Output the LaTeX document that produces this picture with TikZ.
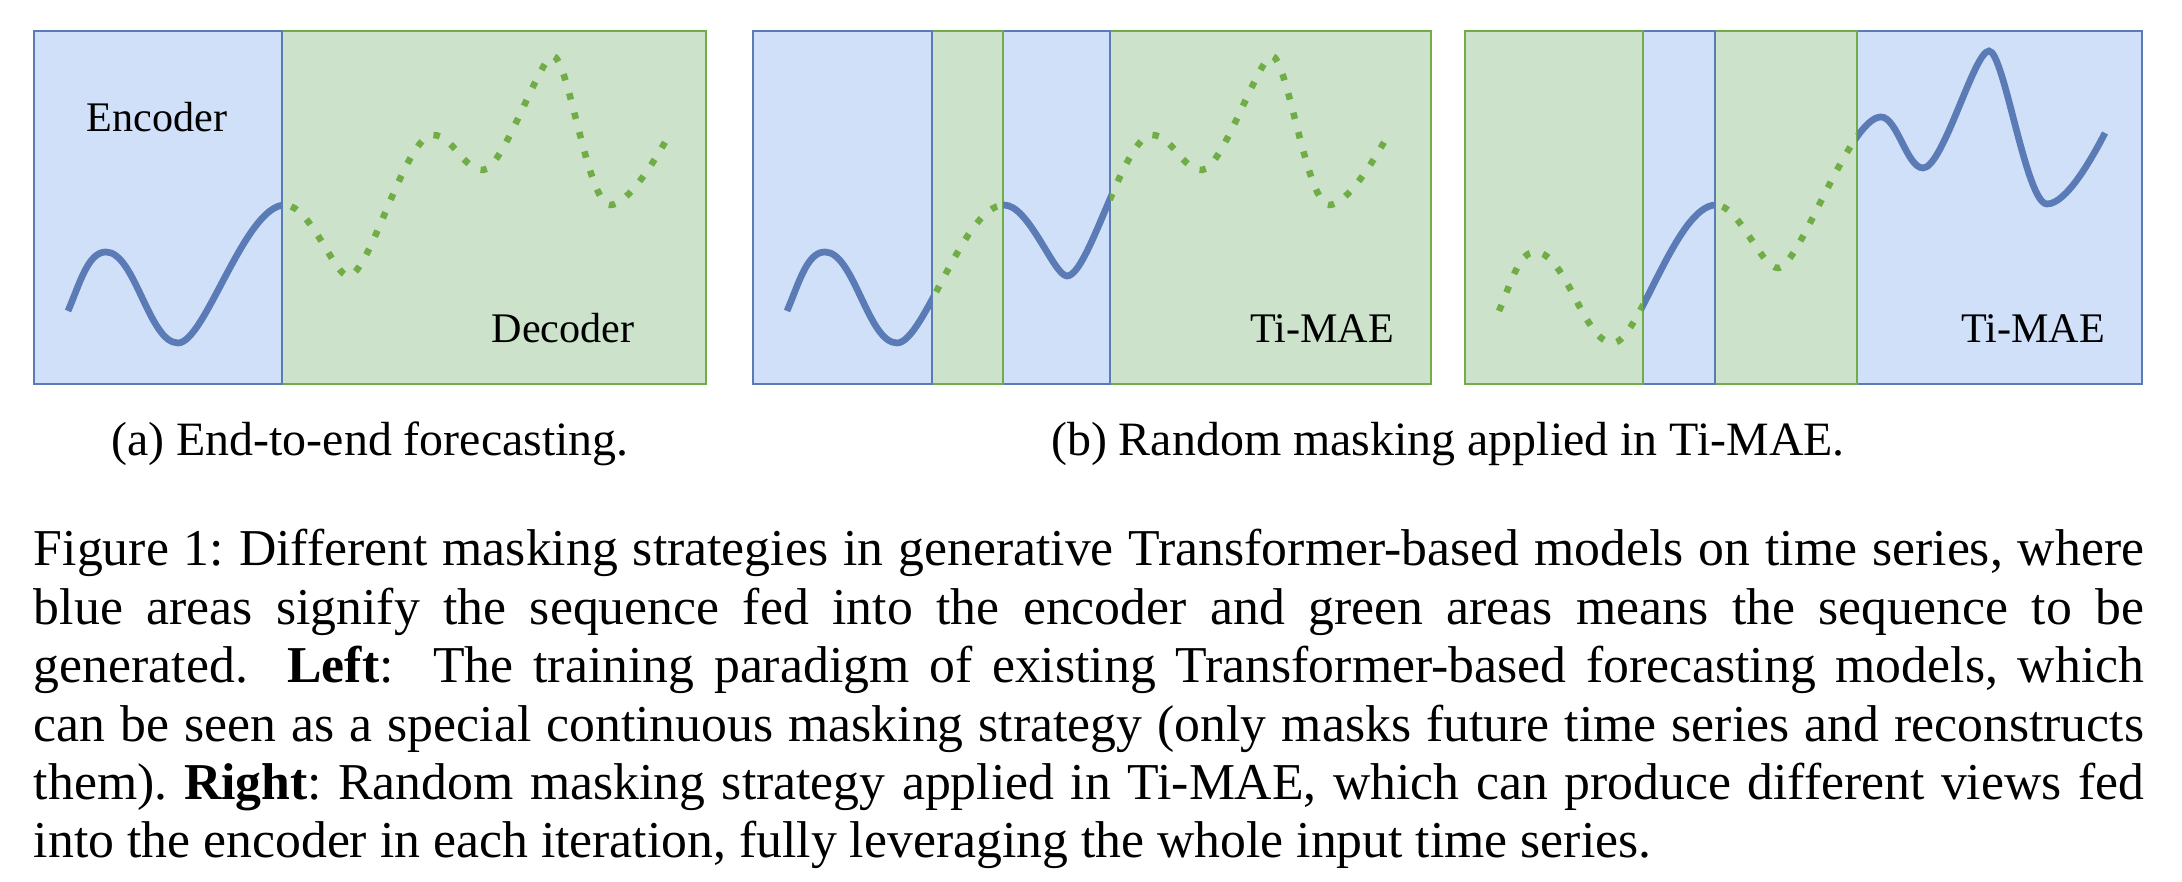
\documentclass[tikz,border=0pt]{standalone}
\usepackage{fontspec}
\setmainfont{Liberation Serif}
\definecolor{encfill}{RGB}{208,224,248}
\definecolor{encdraw}{RGB}{91,123,182}
\definecolor{decfill}{RGB}{204,226,203}
\definecolor{decdraw}{RGB}{112,173,71}
\newcommand{\capline}[1]{\makebox[440.6pt][s]{#1}}
\begin{document}
\begin{tikzpicture}[x=0.2088pt,y=-0.2088pt,
    encbox/.style={fill=encfill,draw=encdraw,line width=0.5pt},
    decbox/.style={fill=decfill,draw=decdraw,line width=0.5pt},
    seen/.style={draw=encdraw,line width=1.4pt},
    masked/.style={draw=decdraw,line width=1.36pt,dash pattern=on 1.36pt off 2.82pt},
    lbl/.style={font=\fontsize{8.8}{10}\selectfont,inner sep=0pt,anchor=base},
    subcap/.style={font=\fontsize{10}{12.2}\selectfont,inner sep=0pt,anchor=base},
    series/.pic={\path[pic actions] (68,311) .. controls (80,283) and (88,252) .. (106,252)
        .. controls (135,252) and (149,343) .. (178,343) .. controls (205,343) and (245,205) .. (285,205)
        .. controls (310,205) and (335,276) .. (348,276) .. controls (370,276) and (405,135) .. (433,135)
        .. controls (453,135) and (463,170) .. (483,170) .. controls (503,170) and (540,56) .. (553,56)
        .. controls (568,56) and (588,205) .. (610,205) .. controls (628,205) and (655,160) .. (668,137);},
    series2/.pic={\path[pic actions] (68,311) .. controls (80,283) and (88,252) .. (104,252)
        .. controls (135,252) and (153,343) .. (182,343) .. controls (207,343) and (245,205) .. (285,205)
        .. controls (308,205) and (330,268) .. (347,268) .. controls (368,268) and (418,117) .. (450,117)
        .. controls (466,117) and (476,168) .. (492,168) .. controls (512,168) and (543,51) .. (558,51)
        .. controls (573,51) and (595,204) .. (616,204) .. controls (635,204) and (660,160) .. (674,133);}]
    \fill[white] (0,0) rectangle (2182,882);
    \useasboundingbox (0,0) rectangle (2182,882);
    % (a) encoder / decoder
    \draw[decbox] (282,31) rectangle (706,384);
    \draw[encbox] (34,31) rectangle (282,384);
    \begin{scope}
        \clip (34,31) rectangle (282,384);
        \pic[seen] at (0,0) {series};
    \end{scope}
    \begin{scope}
        \clip (282,31) rectangle (706,384);
        \pic[masked] at (0,0) {series};
    \end{scope}
    \node[lbl] (Enc) at (157,132) {Encoder};
    \node[lbl] (Dec) at (563,343) {Decoder};
    % (b) first view
    \draw[decbox] (1110,31) rectangle (1431,384);
    \draw[encbox] (1003,31) rectangle (1110,384);
    \draw[decbox] (932,31) rectangle (1003,384);
    \draw[encbox] (753,31) rectangle (932,384);
    \begin{scope}
        \clip (753,31) rectangle (932,384) (1003,31) rectangle (1110,384);
        \pic[seen] at (719,0) {series};
    \end{scope}
    \begin{scope}
        \clip (932,31) rectangle (1003,384) (1110,31) rectangle (1431,384);
        \pic[masked] at (719,0) {series};
    \end{scope}
    \node[lbl] (TiA) at (1322,343) {Ti-MAE};
    % (b) second view
    \draw[encbox] (1857,31) rectangle (2142,384);
    \draw[decbox] (1715,31) rectangle (1857,384);
    \draw[encbox] (1643,31) rectangle (1715,384);
    \draw[decbox] (1465,31) rectangle (1643,384);
    \begin{scope}
        \clip (1643,31) rectangle (1715,384) (1857,31) rectangle (2142,384);
        \pic[seen] at (1431,0) {series2};
    \end{scope}
    \begin{scope}
        \clip (1465,31) rectangle (1643,384) (1715,31) rectangle (1857,384);
        \pic[masked] at (1431,0) {series2};
    \end{scope}
    \node[lbl] (TiB) at (2033,343) {Ti-MAE};
    % captions
    \node[subcap] (CapA) at (370,456) {(a) End-to-end forecasting.};
    \node[subcap] (CapB) at (1448,456) {(b) Random masking applied in Ti-MAE.};
    \node[font=\fontsize{10.8}{12.2}\selectfont\frenchspacing,inner sep=0pt,anchor=north west,
        text width=440.6pt,align=left] (Fig) at (33,524)
        {\spaceskip=0pt\xspaceskip=0pt\strut
        \capline{Figure 1: Different masking strategies in generative Transformer-based models on time series, where}\\
        \capline{blue areas signify the sequence fed into the encoder and green areas means the sequence to be}\\
        \capline{generated.\ \ \textbf{Left}:\ \ The training paradigm of existing Transformer-based forecasting models, which}\\
        \capline{can be seen as a special continuous masking strategy (only masks future time series and reconstructs}\\
        \capline{them). \textbf{Right}: Random masking strategy applied in Ti-MAE, which can produce different views fed}\\
        into the encoder in each iteration, fully leveraging the whole input time series.};
\end{tikzpicture}
\end{document}
